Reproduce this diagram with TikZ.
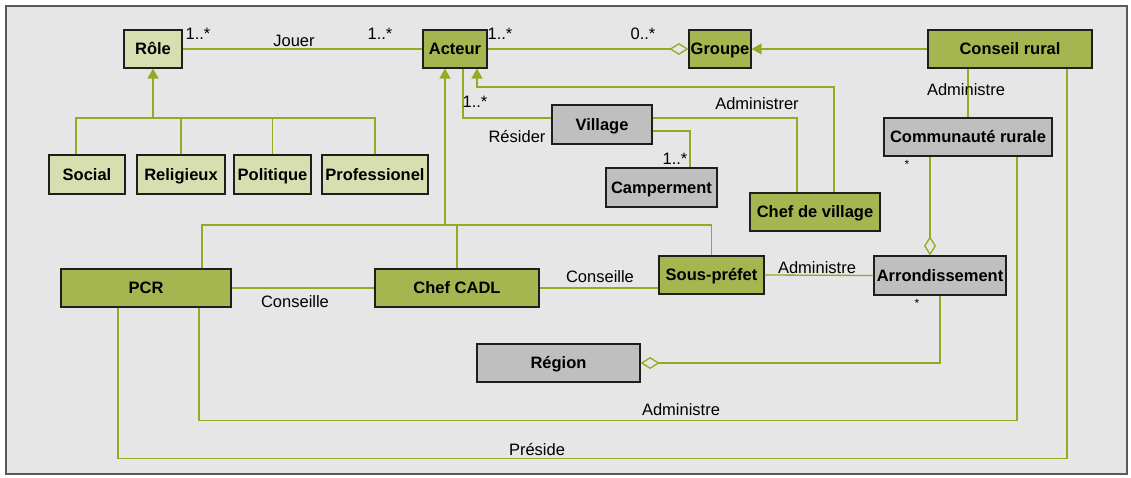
\documentclass[tikz,border=0pt]{standalone}
\usepackage{fontspec}
\setmainfont{Liberation Sans}
\usetikzlibrary{arrows.meta,calc}
\definecolor{framebg}{RGB}{230,230,230}
\definecolor{framegray}{RGB}{90,90,90}
\definecolor{actorgreen}{RGB}{165,182,80}
\definecolor{rolegreen}{RGB}{215,222,176}
\definecolor{placegray}{RGB}{191,191,191}
\definecolor{linkolive}{RGB}{148,170,34}
\definecolor{boxline}{RGB}{30,30,30}
\tikzset{
  classbox/.style={draw=boxline, line width=1.2pt, minimum height=38pt, inner sep=0pt,
    text height=11.8pt, text depth=0pt,
    font=\fontsize{16.5}{19}\selectfont\bfseries},
  actorbox/.style={classbox, fill=actorgreen},
  rolebox/.style={classbox, fill=rolegreen},
  placebox/.style={classbox, fill=placegray},
  link/.style={draw=linkolive, line width=1.3pt},
  inherit/.style={link, -{Triangle[length=10pt,width=11pt]}},
  aggr/.style={link, -{Diamond[open,length=19pt,width=12pt]}},
  lbl/.style={inner sep=0pt, font=\fontsize{16.5}{19}\selectfont},
  starlbl/.style={inner sep=0pt, font=\fontsize{12}{13}\selectfont}
}

\begin{document}
\begin{tikzpicture}[x=1pt, y=-1pt]
		\useasboundingbox (0,0) rectangle (1131,477);
		%%%%% FRAME %%%%%
		\draw[fill=framebg, draw=framegray, line width=1.5pt] (6,6) rectangle (1127,474);
		
		%%%%% CLASSES %%%%%
		\node[rolebox, minimum width=58pt] (role) at (153,49) {Rôle};
		\node[rolebox, minimum width=76pt, minimum height=39pt] (social) at (87,174.5) {Social};
		\node[rolebox, minimum width=88pt, minimum height=39pt] (religieux) at (181,174.5) {Religieux};
		\node[rolebox, minimum width=77pt, minimum height=39pt] (politique) at (272.5,174.5) {Politique};
		\node[rolebox, minimum width=106pt, minimum height=39pt] (professionel) at (375,174.5) {Professionel};
		
		\node[actorbox, minimum width=64pt] (acteur) at (455,49) {Acteur};
		\node[actorbox, minimum width=62pt] (groupe) at (720,49) {Groupe};
		\node[actorbox, minimum width=164pt] (conseil) at (1010,49) {Conseil rural};
		
		\node[placebox, minimum width=100pt, minimum height=39pt] (village) at (602,124.5) {Village};
		\node[placebox, minimum width=111pt, minimum height=39pt] (camperment) at (661.5,187.5) {Camperment};
		\node[actorbox, minimum width=130pt] (chefvillage) at (815,212) {Chef de village};
		\node[placebox, minimum width=168pt] (communaute) at (968,137) {Communauté rurale};
		
		\node[actorbox, minimum width=170pt] (pcr) at (146,288) {PCR};
		\node[actorbox, minimum width=164pt] (chefcadl) at (457,288) {Chef CADL};
		\node[actorbox, minimum width=105pt] (souspref) at (711.5,275) {Sous-préfet};
		\node[placebox, minimum width=132pt, minimum height=39pt] (arrond) at (940,275.5) {Arrondissement};
		\node[placebox, minimum width=163pt] (region) at (558.5,363) {Région};
		
		%%%%% ROLE HIERARCHY %%%%%
		\coordinate (rolejoin) at (role.south |- 0,118);
		\draw[link] ([xshift=-11pt]social.north) |- (rolejoin);
		\draw[link] (religieux.north) |- (rolejoin);
		\draw[link] (politique.north) |- (rolejoin);
		\draw[link] (professionel.north) |- (rolejoin);
		\draw[inherit] (rolejoin) -- (role.south);
		
		\draw[link] (role.east) -- (acteur.west);
		\node[lbl] (jouerA) at (198,34) {1..*};
		\node[lbl] (jouer) at (294,41) {Jouer};
		\node[lbl] (jouerB) at (380,34) {1..*};
		
		%%%%% ACTEUR / GROUPE %%%%%
		\draw[aggr] (acteur.east) -- (groupe.west);
		\node[lbl] (membreA) at (500,34) {1..*};
		\node[lbl] (membreB) at (643,34) {0..*};
		\draw[inherit] (conseil.west) -- (groupe.east);
		
		%%%%% VILLAGE %%%%%
		\draw[link] ([xshift=8pt]acteur.south) |- ([yshift=6.5pt]village.west);
		\node[lbl] (residerM) at (475,102) {1..*};
		\node[lbl] (resider) at (517,137) {Résider};
		
		\coordinate (cvtop) at ([xshift=19pt]chefvillage.north);
		\coordinate (cvend) at ([xshift=22pt]acteur.south);
		\draw[inherit] (cvtop) |- (cvend |- 0,87) -- (cvend);
		
		\draw[link] ([yshift=6.5pt]village.east) -| ([xshift=-18pt]chefvillage.north);
		\node[lbl] (administrer) at (757,104) {Administrer};
		
		\draw[link] ([yshift=-6.5pt]village.east) -| ([xshift=28.5pt]camperment.north);
		\node[lbl] (campM) at (675,159) {1..*};
		
		%%%%% CONSEIL RURAL %%%%%
		\draw[link] (conseil.south -| communaute.north) -- (communaute.north);
		\node[lbl] (adminCR) at (966,90) {Administre};
		\draw[aggr] ([xshift=-38pt]communaute.south) -- ([xshift=-10pt]arrond.north);
		\node[starlbl] (starCR) at (907,164) {*};
		
		%%%%% ADMINISTRATION %%%%%
		\coordinate (actjoin) at ([xshift=-10pt]acteur.south |- 0,225);
		\draw[link] ([xshift=56pt]pcr.north) |- (actjoin);
		\draw[link] (chefcadl.north) |- (actjoin);
		\draw[link] (souspref.north) |- (actjoin);
		\draw[inherit] (actjoin) -- ([xshift=-10pt]acteur.south);
		
		\draw[link] (pcr.east) -- (chefcadl.west);
		\node[lbl] (conseilleA) at (295,302) {Conseille};
		\draw[link] (chefcadl.east) -- ([yshift=-13pt]souspref.west);
		\node[lbl] (conseilleB) at (600,277) {Conseille};
		\draw[link] (souspref.east) -- (arrond.west);
		\node[lbl] (adminSP) at (817,268) {Administre};
		
		\draw[aggr] (arrond.south) |- (region.east);
		\node[starlbl] (starAR) at (917,303) {*};
		
		\draw[link] ([xshift=53pt]pcr.south) -- ++(0,113) -| ([xshift=49pt]communaute.south);
		\node[lbl] (adminPCR) at (681,410) {Administre};
		\draw[link] ([xshift=-28pt]pcr.south) -- ++(0,151) -| ([xshift=57pt]conseil.south);
		\node[lbl] (preside) at (537,449) {Préside};
		%%%%% END %%%%%
	\end{tikzpicture}
\end{document}
